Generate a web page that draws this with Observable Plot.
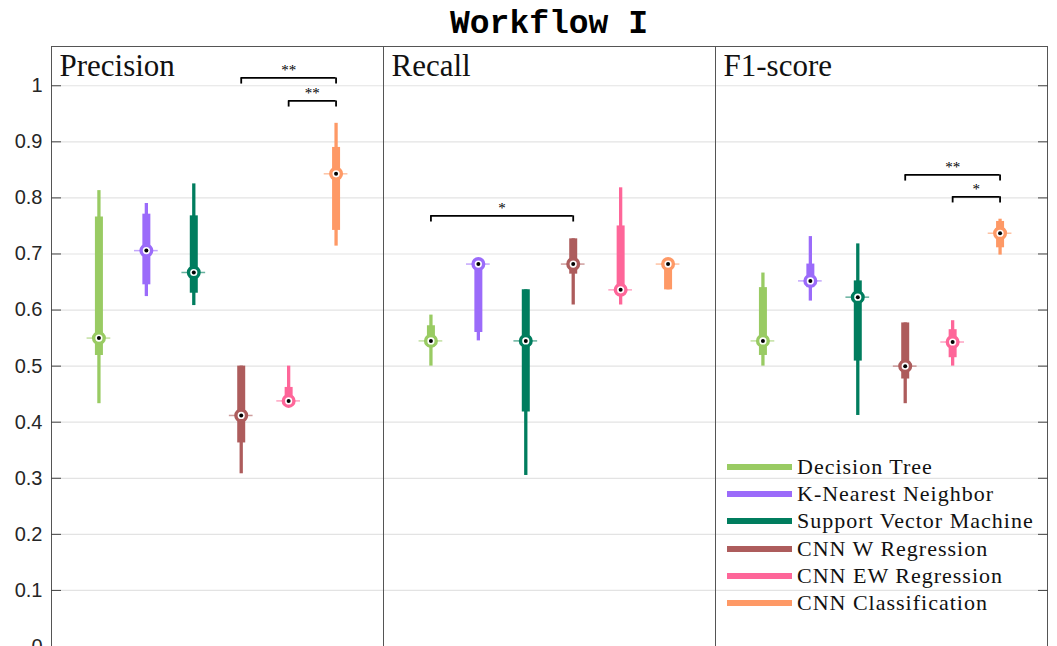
<!DOCTYPE html>
<html><head><meta charset="utf-8">
<script src="https://cdn.jsdelivr.net/npm/d3@7"></script>
<script src="https://cdn.jsdelivr.net/npm/@observablehq/plot@0.6"></script>
<style>
html,body{margin:0;padding:0;background:#fff;overflow:hidden;}
#wrap{position:relative;width:1057px;height:646px;}
#title{position:absolute;left:51px;width:996px;top:2px;height:45px;line-height:45px;text-align:center;
  font-family:"Liberation Mono",monospace;font-weight:bold;font-size:33px;color:#000;}
#chart{position:absolute;left:0;top:45px;}
#legend{position:absolute;left:727px;top:453px;font-family:"Liberation Serif",serif;font-size:22px;letter-spacing:1px;color:#111;}
.li{height:27.3px;display:flex;align-items:center;}
.sw{width:65px;height:6px;margin-right:5px;}
</style></head><body>
<div id="wrap"><div id="title">Workflow I</div><div id="chart"></div><div id="legend"></div></div>
<script>
const metrics = ["Precision", "Recall", "F1-score"];
const models = ["Decision Tree", "K-Nearest Neighbor", "Support Vector Machine", "CNN W Regression", "CNN EW Regression", "CNN Classification"];
const colors = ["#99cb63", "#9b6bfa", "#007d5e", "#ad5c5c", "#fe6699", "#fe9966"];
// [min, q1, median, q3, max] per model
const precisionStats = [
  [0.433, 0.519, 0.550, 0.766, 0.813],
  [0.624, 0.645, 0.706, 0.771, 0.790],
  [0.608, 0.630, 0.667, 0.768, 0.825],
  [0.308, 0.363, 0.412, 0.500, 0.500],
  [0.435, 0.437, 0.438, 0.462, 0.500],
  [0.714, 0.742, 0.843, 0.890, 0.933]
];
const recallStats = [
  [0.500, 0.534, 0.545, 0.572, 0.591],
  [0.545, 0.560, 0.682, 0.682, 0.682],
  [0.305, 0.418, 0.545, 0.636, 0.636],
  [0.609, 0.664, 0.682, 0.727, 0.727],
  [0.609, 0.636, 0.636, 0.750, 0.818],
  [0.636, 0.636, 0.682, 0.682, 0.682]
];
const f1Stats = [
  [0.500, 0.519, 0.545, 0.640, 0.666],
  [0.616, 0.640, 0.652, 0.682, 0.731],
  [0.412, 0.509, 0.623, 0.652, 0.718],
  [0.433, 0.477, 0.500, 0.577, 0.577],
  [0.500, 0.515, 0.543, 0.565, 0.581],
  [0.698, 0.711, 0.737, 0.758, 0.762]
];
const yTicks = [0, 0.1, 0.2, 0.3, 0.4, 0.5, 0.6, 0.7, 0.8, 0.9, 1];
// significance brackets: metric, from model index, to model index, height, label
const bracketMetric = ["Precision", "Precision", "Recall", "F1-score", "F1-score"];
const bracketFrom = [4, 5, 1, 4, 5];
const bracketTo = [6, 6, 4, 6, 6];
const bracketY = [1.014, 0.973, 0.768, 0.841, 0.802];
const bracketLabel = ["**", "**", "*", "**", "*"];

const statsByMetric = [precisionStats, recallStats, f1Stats];
const rows = [];
metrics.forEach((m, mi) => statsByMetric[mi].forEach((s, i) => rows.push({
  metric: m, model: models[i], idx: i + 1, min: s[0], q1: s[1], med: s[2], q3: s[3], max: s[4]
})));
const brackets = bracketMetric.map((m, i) => ({metric: m, from: bracketFrom[i], to: bracketTo[i], y: bracketY[i], label: bracketLabel[i]}));

const fmt = d => d === 0 ? "0" : d === 1 ? "1" : d.toFixed(1);

const chart = Plot.plot({
  width: 1057, height: 601,
  marginTop: 1, marginLeft: 51, marginRight: 10, marginBottom: 0,
  style: {fontFamily: "'Liberation Sans', Arial, sans-serif", fontSize: "20px", background: "#fff", color: "#262626"},
  fx: {domain: metrics, padding: 0, axis: null},
  x: {domain: [0, 7], axis: null},
  y: {domain: [0, 1.07]},
  color: {domain: models, range: colors},
  marks: [
    Plot.gridY(yTicks, {stroke: "#e3e3e3", strokeOpacity: 1, strokeWidth: 1.2}),
    Plot.frame({stroke: "#555", strokeWidth: 1}),
    Plot.axisY({anchor: "left", ticks: yTicks, tickSize: 0, tickPadding: 9, tickFormat: fmt, label: null, fill: "#262626"}),
    Plot.axisY({anchor: "left", ticks: yTicks, tickSize: -10, fill: "none", label: null, stroke: "#444"}),
    Plot.axisY({anchor: "right", ticks: yTicks, tickSize: -10, fill: "none", label: null, stroke: "#444"}),
    Plot.text(metrics, {fx: d => d, text: d => d, frameAnchor: "top-left", lineAnchor: "top", textAnchor: "start",
      dx: 8, dy: 7, fontSize: 31, fontFamily: "'Liberation Serif', serif", fill: "#111"}),
    // whiskers
    Plot.ruleX(rows, {fx: "metric", x: "idx", y1: "min", y2: "max", stroke: "model", strokeWidth: 3.3, strokeLinecap: "butt"}),
    // interquartile
    Plot.ruleX(rows, {fx: "metric", x: "idx", y1: "q1", y2: "q3", stroke: "model", strokeWidth: 8, strokeLinecap: "butt"}),
    // median tick
    Plot.ruleY(rows, {fx: "metric", x1: d => d.idx - 0.25, x2: d => d.idx + 0.25, y: "med", stroke: "model", strokeOpacity: 0.6, strokeWidth: 1.5}),
    Plot.dot(rows, {fx: "metric", x: "idx", y: "med", r: 5.3, fill: "white", stroke: "model", strokeWidth: 3.4}),
    Plot.dot(rows, {fx: "metric", x: "idx", y: "med", r: 2, fill: "black", stroke: "none"}),
    // brackets
    Plot.ruleY(brackets, {fx: "metric", x1: "from", x2: "to", y: "y", stroke: "black", strokeWidth: 1.8}),
    Plot.ruleX(brackets, {fx: "metric", x: "from", y1: "y", y2: d => d.y - 0.011, stroke: "black", strokeWidth: 1.8}),
    Plot.ruleX(brackets, {fx: "metric", x: "to", y1: "y", y2: d => d.y - 0.011, stroke: "black", strokeWidth: 1.8}),
    Plot.text(brackets, {fx: "metric", x: d => (d.from + d.to) / 2, y: "y", text: "label", dy: -3, fontSize: 15,
      fontFamily: "'Liberation Serif', serif", fill: "#000", lineAnchor: "bottom"})
  ]
});
document.getElementById("chart").appendChild(chart);

const legend = document.getElementById("legend");
models.forEach((m, i) => {
  const row = document.createElement("div");
  row.className = "li";
  const sw = document.createElement("div");
  sw.className = "sw";
  sw.style.background = colors[i];
  const t = document.createElement("span");
  t.textContent = m;
  row.appendChild(sw); row.appendChild(t);
  legend.appendChild(row);
});
</script>
</body></html>
